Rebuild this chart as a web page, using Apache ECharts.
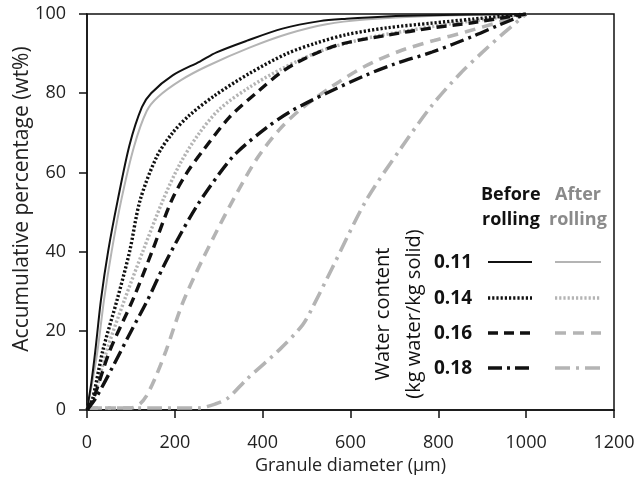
<!DOCTYPE html>
<html><head><meta charset="utf-8">
<script src="https://cdn.jsdelivr.net/npm/echarts@6/dist/echarts.min.js"></script>
<style>html,body{margin:0;padding:0;background:#fff}#c{width:639px;height:481px}</style>
</head><body><div id="c"></div>
<script>
// ---- data (x: granule diameter µm, y: accumulative wt%) ----
const waterContents = ['0.11', '0.14', '0.16', '0.18'];
const xTicks = [0, 200, 400, 600, 800, 1000, 1200];
const yTicks = [0, 20, 40, 60, 80, 100];
const xTitle = 'Granule diameter (µm)';
const yTitle = 'Accumulative percentage (wt%)';

const before011 = [[0,0],[10,7],[19,15],[32,28],[48,40],[70,53],[97,67],[125,76.5],[146,80],[195,84.5],[257,88],[295,90.3],[363,93.2],[445,96.3],[530,98.2],[591,98.8],[682,99.4],[779,99.7],[1000,100]];
const before014 = [[0,0],[12,2.5],[36,15],[69,28],[97,40],[121,53],[159,64],[195,70],[234,74.5],[292,79.5],[370,85],[455,90],[523,92.7],[591,94.8],[682,96.5],[786,97.7],[877,98.7],[1000,100]];
const before016 = [[0,0],[15,3],[52,15],[105,28],[148,40],[193,53],[228,60],[264,65.5],[325,74],[390,80.5],[445,85.5],[506,89.3],[575,92.3],[682,94.6],[786,96.5],[877,97.8],[1000,100]];
const before018 = [[0,0],[20,3],[59,11],[98,19.4],[139,28],[173,36],[211,44],[250,51.5],[300,59.5],[341,65],[409,71.3],[462,75.3],[545,80],[636,84.6],[701,87.4],[786,90.4],[877,94.3],[938,97.2],[1000,100]];

const after011 = [[0,0],[12,7],[24,15],[39,28],[56,40],[78,53],[107,66.5],[136,75.5],[161,79],[214,83.3],[273,86.8],[370,91.5],[458,95],[545,97.4],[633,98.6],[779,99.5],[1000,100]];
const after014 = [[0,0],[14,2.5],[45,15],[86,28],[127,40],[173,53],[211,62],[253,69.5],[302,76],[370,81.5],[446,86.3],[536,90.8],[633,93.8],[730,95.8],[828,97.5],[1000,100]];
const after016 = [[0,0.5],[100,0.5],[120,1.5],[135,3.5],[155,8],[180,15],[216,26.5],[250,35],[290,44],[330,52.5],[387,63.5],[438,70.8],[487,76],[559,81.8],[633,86.8],[711,90.6],[790,93.3],[863,95.5],[1000,100]];
const after018 = [[0,0.5],[146,0.5],[253,0.5],[292,1.5],[321,3],[364,7.8],[439,15.3],[491,21.5],[514,26],[559,36],[636,53],[711,65.5],[786,77],[850,85],[900,90.3],[950,95.3],[1000,100]];

const BLACK = '#111';
const GRAY = '#b4b4b4';
const GRAYTEXT = '#8a8a8a';
const FONT = '"Open Sans", "Noto Sans", sans-serif';

const styles = [
  {type: 'solid', width: 2},
  {type: [2.2, 2], width: 3.4},
  {type: [10, 6], width: 3.4},
  {type: [14, 5, 3, 5], width: 3.4}
];
const grayStyles = [
  {type: 'solid', width: 2},
  {type: [2.2, 2], width: 3.4},
  {type: [11, 7], width: 3.6},
  {type: [15, 6, 3, 6], width: 3.6}
];

function mk(name, data, color, st, z) {
  return {name: name, type: 'line', data: data, smooth: 0.3, symbol: 'none', z: z,
    lineStyle: {color: color, width: st.width, type: st.type, cap: 'butt'}};
}

const series = [
  mk('after 0.18', after018, GRAY, grayStyles[3], 2),
  mk('after 0.16', after016, GRAY, grayStyles[2], 2),
  mk('after 0.14', after014, GRAY, grayStyles[1], 2),
  mk('after 0.11', after011, GRAY, grayStyles[0], 2),
  mk('before 0.18', before018, BLACK, styles[3], 3),
  mk('before 0.16', before016, BLACK, styles[2], 3),
  mk('before 0.14', before014, BLACK, styles[1], 3),
  mk('before 0.11', before011, BLACK, styles[0], 3)
];

// legend + y title graphics
const rowY = [262, 298, 333, 368];
const graphic = [
  {type: 'text', x: 22, y: 199, rotation: Math.PI / 2,
    style: {text: yTitle, font: '21px ' + FONT, fill: '#222', align: 'center', verticalAlign: 'middle'}},
  {type: 'text', x: 481, y: 195, style: {text: 'Before', font: 'bold 18px ' + FONT, fill: BLACK, verticalAlign: 'middle'}},
  {type: 'text', x: 482, y: 220, style: {text: 'rolling', font: 'bold 18px ' + FONT, fill: BLACK, verticalAlign: 'middle'}},
  {type: 'text', x: 555, y: 195, style: {text: 'After', font: 'bold 18px ' + FONT, fill: GRAYTEXT, verticalAlign: 'middle'}},
  {type: 'text', x: 549, y: 220, style: {text: 'rolling', font: 'bold 18px ' + FONT, fill: GRAYTEXT, verticalAlign: 'middle'}},
  {type: 'text', x: 383, y: 314, rotation: Math.PI / 2,
    style: {text: 'Water content', font: '20px ' + FONT, fill: BLACK, align: 'center', verticalAlign: 'middle'}},
  {type: 'text', x: 414, y: 314, rotation: Math.PI / 2,
    style: {text: '(kg water/kg solid)', font: '20px ' + FONT, fill: BLACK, align: 'center', verticalAlign: 'middle'}}
];
waterContents.forEach(function (w, i) {
  graphic.push({type: 'text', x: 434, y: rowY[i] + 1, style: {text: w, font: 'bold 19px ' + FONT, fill: BLACK, verticalAlign: 'middle'}});
  graphic.push({type: 'line', shape: {x1: 488, y1: rowY[i], x2: 532, y2: rowY[i]},
    style: {stroke: BLACK, lineWidth: styles[i].width, lineDash: styles[i].type === 'solid' ? null : styles[i].type}});
  graphic.push({type: 'line', shape: {x1: 555, y1: rowY[i], x2: 601, y2: rowY[i]},
    style: {stroke: GRAY, lineWidth: grayStyles[i].width, lineDash: grayStyles[i].type === 'solid' ? null : grayStyles[i].type}});
});

const chart = echarts.init(document.getElementById('c'), null, {renderer: 'canvas'});
chart.setOption({
  backgroundColor: '#fff',
  animation: false,
  grid: {left: 87, right: 25, top: 14, bottom: 71, show: true, borderColor: '#111', borderWidth: 1.5, backgroundColor: 'transparent'},
  xAxis: {
    type: 'value', min: xTicks[0], max: xTicks[xTicks.length - 1], interval: 200,
    name: xTitle, nameLocation: 'middle', nameGap: 46,
    nameTextStyle: {fontFamily: FONT, fontSize: 18, color: '#222'},
    axisLine: {show: true, lineStyle: {color: '#111', width: 1.5}},
    axisTick: {show: true, inside: false, length: 8, lineStyle: {color: '#111', width: 1.5}},
    axisLabel: {fontFamily: FONT, fontSize: 18, color: '#222', margin: 24, formatter: function (v) { return String(v); }},
    splitLine: {show: false}
  },
  yAxis: {
    type: 'value', min: yTicks[0], max: yTicks[yTicks.length - 1], interval: 20,
    axisLine: {show: true, lineStyle: {color: '#111', width: 1.5}},
    axisTick: {show: true, inside: false, length: 8, lineStyle: {color: '#111', width: 1.5}},
    axisLabel: {fontFamily: FONT, fontSize: 18, color: '#222', margin: 21},
    splitLine: {show: false}
  },
  series: series,
  graphic: graphic
});
</script>
</body></html>
